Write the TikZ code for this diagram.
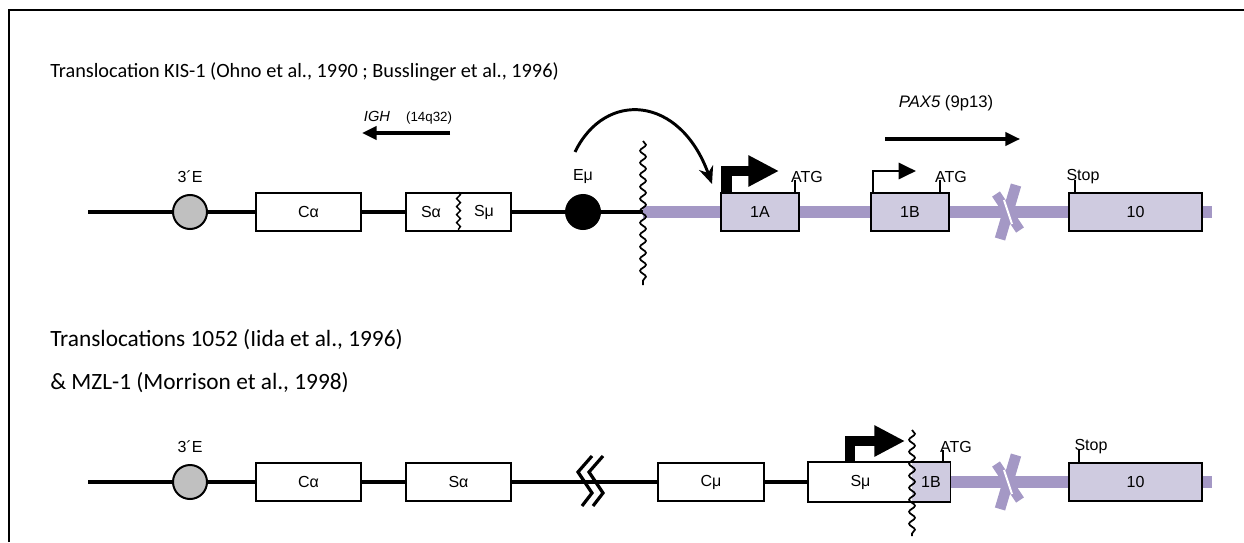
\documentclass[tikz,border=0pt]{standalone}
\usepackage{fontspec}
\setmainfont{Carlito}
\newfontfamily\helv{Liberation Sans}
\usetikzlibrary{arrows.meta,shapes.geometric,decorations.pathmorphing,backgrounds}

\definecolor{paxline}{RGB}{164,152,197}
\definecolor{paxfill}{RGB}{207,203,224}
\definecolor{enhgray}{RGB}{192,192,192}

\tikzset{
  dna/.style={line width=3pt},
  paxdna/.style={paxline,line width=9pt},
  segbox/.style={draw,line width=1.3pt,fill=white,minimum height=28.5pt,inner sep=0pt,font=\helv\fontsize{12}{14}\selectfont},
  exon/.style={segbox,fill=paxfill},
  enh/.style={circle,draw,line width=1.5pt,minimum size=25.5pt,inner sep=0pt},
  lbl/.style={font=\helv\fontsize{12}{14}\selectfont,inner sep=0pt},
  title/.style={font=\fontsize{15.2}{18}\selectfont,inner sep=0pt,anchor=base west},
  cutline/.style={decorate,decoration={snake,amplitude=2.2pt,segment length=9pt},line width=1.3pt},
  tick/.style={line width=2.2pt},
  dirarrow/.style={line width=2.3pt,-{Triangle[length=11pt,width=10pt]}},
  bigprom/.style={line width=8pt,-{Triangle[length=23pt,width=22pt]}},
  smallprom/.style={line width=2.2pt,-{Triangle[length=13pt,width=12pt]}},
}

\begin{document}
\begin{tikzpicture}[x=0.75pt,y=-0.75pt]
  \useasboundingbox (0,0) rectangle (1244,542);
  \draw[line width=2pt] (9,542) -- (9,10) -- (1244,10);

  % titles
  \node[title] (title1) at (50,77) {Translocation KIS-1 (Ohno et al., 1990 ; Busslinger et al., 1996)};
  \node[title,font=\fontsize{17.5}{21}\selectfont] (title2) at (50,346) {Translocations 1052 (Iida et al., 1996)};
  \node[title,font=\fontsize{17.5}{21}\selectfont] (title3) at (50,389) {\& MZL-1 (Morrison et al., 1998)};

  % orientation of the two loci
  \node[lbl,font=\helv\fontsize{10}{12}\selectfont] (igh) at (408,118) {{\fontsize{11}{12}\selectfont\textit{IGH}}\hspace{12pt}(14q32)};
  \coordinate (ighR) at (450,133);
  \coordinate (ighL) at (362,133);
  \draw[dirarrow] (ighR) -- (ighL);
  \node[lbl,font=\helv\fontsize{12.5}{14}\selectfont] (pax) at (946,103) {\textit{PAX5} (9p13)};
  \coordinate (paxL) at (885,139);
  \coordinate (paxR) at (1020,139);
  \draw[dirarrow] (paxL) -- (paxR);

  % KIS-1
  \coordinate (start1) at (88,212);
  \coordinate (cut1) at (643,212);
  \coordinate (end1) at (1212,212);
  \node[enh,fill=enhgray] (enh3a) at (190,212) {};
  \node[lbl] (enh3alab) at (190,177) {3´E};
  \node[segbox,minimum width=79pt] (calpha1) at (308.5,212) {Cα};
  \node[segbox,minimum width=79pt] (switch1) at (458.5,212) {};
  \node[lbl] (salpha1) at (431,212) {Sα};
  \node[lbl] (smu1) at (484,212) {Sμ};
  \draw[cutline,decoration={amplitude=1.4pt,segment length=6pt},line width=1.1pt] (switch1.north) -- (switch1.south);
  \node[enh,fill=black] (emu1) at (583,212) {};
  \node[lbl] (emulab1) at (583,177) {Eμ};
  \node[exon,minimum width=59pt] (ex1a) at (760,212) {1A};
  \node[exon,minimum width=59pt] (ex1b) at (910,212) {1B};
  \node[exon,minimum width=100pt] (ex10a) at (1135.5,212) {10};
  \begin{scope}[on background layer]
    \draw[dna] (start1) -- (enh3a) -- (calpha1) -- (switch1) -- (emu1) -- (cut1);
    \draw[paxdna] (cut1) -- (ex1a) -- (ex1b) -- (ex10a) -- (end1);
  \end{scope}
  \coordinate (cuttop1) at (643,141);
  \coordinate (cutbot1) at (643,285);
  \draw[cutline] (cuttop1) -- (cutbot1);
  \coordinate (jump1) at (575,152);
  \coordinate (land1) at (712,184);
  \draw[line width=2.2pt,-{Stealth[length=13pt,width=11pt]}] (jump1) .. controls (605,90) and (680,95) .. (land1);
  \draw[bigprom] (726.5,192) |- (779,171);
  \node[lbl] (atg1a) at (807,177) {ATG};
  \draw[tick] (795,192) -- (795,180);
  \draw[smallprom] (873,192) |- (916,171);
  \node[lbl] (atg1b) at (951,177) {ATG};
  \draw[tick] (940,192) -- (940,180);
  \node[lbl] (stop1) at (1083,177) {Stop};
  \draw[tick] (1075,192) -- (1075,180);

  % 1052 and MZL-1
  \coordinate (start2) at (88,482);
  \coordinate (end2) at (1212,482);
  \node[enh,fill=enhgray] (enh3b) at (190,482) {};
  \node[lbl] (enh3blab) at (190,447) {3´E};
  \node[segbox,minimum width=79pt] (calpha2) at (308.5,482) {Cα};
  \node[segbox,minimum width=79pt] (salpha2) at (458.5,482) {Sα};
  \node[segbox,minimum width=80pt] (cmu2) at (711,482) {Cμ};
  \node[segbox,draw=none,minimum width=77pt] (smu2) at (860.5,482) {Sμ};
  \draw[line width=1.3pt] (smu2.north east) -- (smu2.north west) -- (smu2.south west) -- (smu2.south east);
  \node[exon,draw=none,minimum width=28pt] (ex1b2) at (931,482) {1B};
  \draw[line width=1.3pt] (ex1b2.north west) -- (ex1b2.north east) -- (ex1b2.south east) -- (ex1b2.south west);
  \node[exon,minimum width=100pt] (ex10b) at (1135.5,482) {10};
  \begin{scope}[on background layer]
    \draw[dna] (start2) -- (enh3b) -- (calpha2) -- (salpha2) -- (cmu2) -- (smu2);
    \draw[paxdna] (ex1b2) -- (ex10b) -- (end2);
  \end{scope}
  \draw[line width=2.4pt] (592,456) -- (578,472) -- (592,493) -- (582,506);
  \draw[line width=2.4pt] (603,456) -- (589,472) -- (603,493) -- (593,506);
  \coordinate (cuttop2) at (912,430);
  \coordinate (cutbot2) at (912,536);
  \draw[cutline] (cuttop2) -- (cutbot2);
  \draw[bigprom] (850,462) |- (905,441);
  \node[lbl] (atg2) at (956,447) {ATG};
  \draw[tick] (943,462) -- (943,450);
  \node[lbl] (stop2) at (1091,447) {Stop};
  \draw[tick] (1079,462) -- (1079,450);

  % breaks inside PAX5
  \foreach \yy in {212,482} {
    \draw[paxline,line width=8pt] (1016,\yy-27) -- (1000,\yy+27);
    \draw[paxline,line width=7pt] (996,\yy-18) -- (1020,\yy+18);
    \draw[white,line width=1.5pt] (1004,\yy-12) -- (1012,\yy+12);
  }
\end{tikzpicture}
\end{document}
